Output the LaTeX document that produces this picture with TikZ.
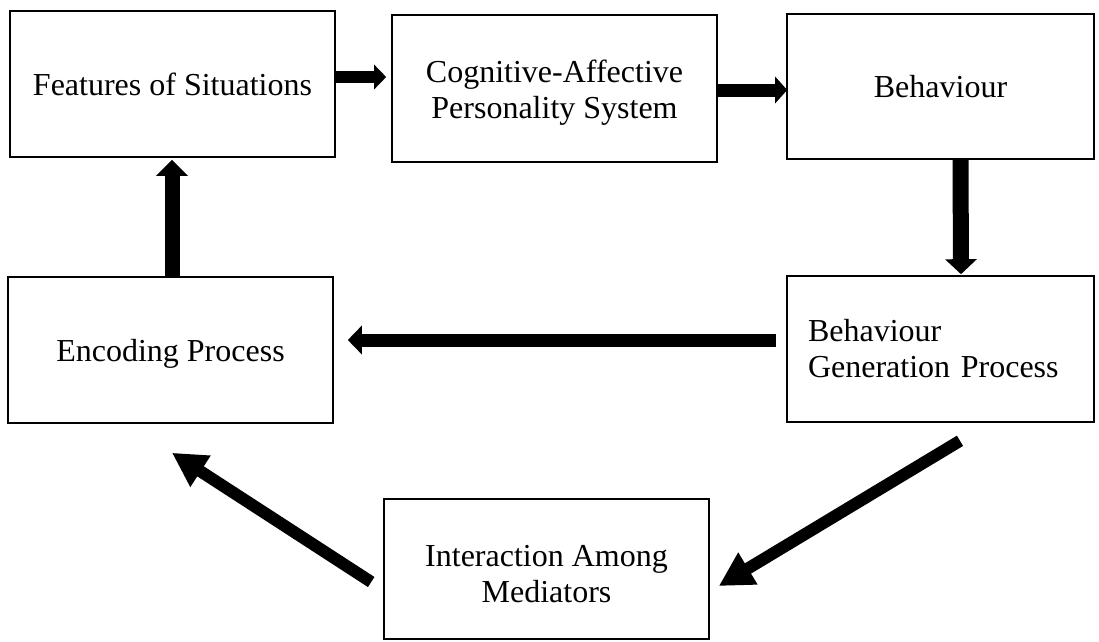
\documentclass[tikz,border=0pt]{standalone}
\usepackage{fontspec}
\setmainfont{Liberation Serif}
\usetikzlibrary{arrows.meta}
\begin{document}
\begin{tikzpicture}[x=1pt,y=-1pt,
  box/.style={draw, line width=1.6pt, inner sep=0pt, font=\fontsize{32}{36}\selectfont, align=center},
  arr/.style n args={3}{line width=#1, -{Triangle[length=#2,width=#3]}}
]
\useasboundingbox (0,0) rectangle (1099,641);
\node[box, minimum width=325pt, minimum height=146pt] (F) at (172.5,84) {Features of Situations};
\node[box, minimum width=325pt, minimum height=147pt, font=\fontsize{32}{35.5}\selectfont, text height=59pt, text depth=0pt] (C) at (554.5,88.5) {Cognitive-Affective\\Personality System};
\node[box, minimum width=307pt, minimum height=145pt] (B) at (940.5,86.5) {Behaviour};
\node[box, minimum width=307pt, minimum height=146pt, text width=265pt, align=left] (G) at (940.5,349) {Behaviour\\Generation Process};
\node[box, minimum width=325pt, minimum height=146pt, text depth=0pt] (E) at (170.5,350) {Encoding Process};
\node[box, minimum width=325pt, minimum height=140pt, text height=66pt, text depth=0pt] (I) at (546.5,569) {Interaction Among\\Mediators};

\draw[arr={12pt}{12pt}{24pt}] ([yshift=7pt]F.east) -- ([yshift=11.5pt,xshift=-5pt]C.west);
\draw[arr={13pt}{12pt}{26pt}] ([yshift=-1.5pt]C.east) -- ([yshift=-3.5pt,xshift=1pt]B.west);
\draw[arr={16pt}{15pt}{31pt}] ([xshift=20pt]B.south) -- ([xshift=20.5pt,yshift=1pt]G.north);
\draw[arr={13pt}{14pt}{28pt}] ([xshift=-10pt,yshift=9pt]G.west) -- ([xshift=14pt,yshift=10pt]E.east);
\draw[arr={15pt}{16pt}{31pt}] ([xshift=1.5pt]E.north) -- ([xshift=-0.5pt,yshift=-2pt]F.south);
\draw[arr={12pt}{34pt}{35pt}] ([xshift=19.5pt,yshift=-18pt]G.south) -- ([xshift=9pt,yshift=-17pt]I.east);
\draw[arr={12pt}{34pt}{35pt}] ([xshift=-12pt,yshift=-13pt]I.west) -- ([xshift=1.5pt,yshift=-29pt]E.south);
\end{tikzpicture}
\end{document}
